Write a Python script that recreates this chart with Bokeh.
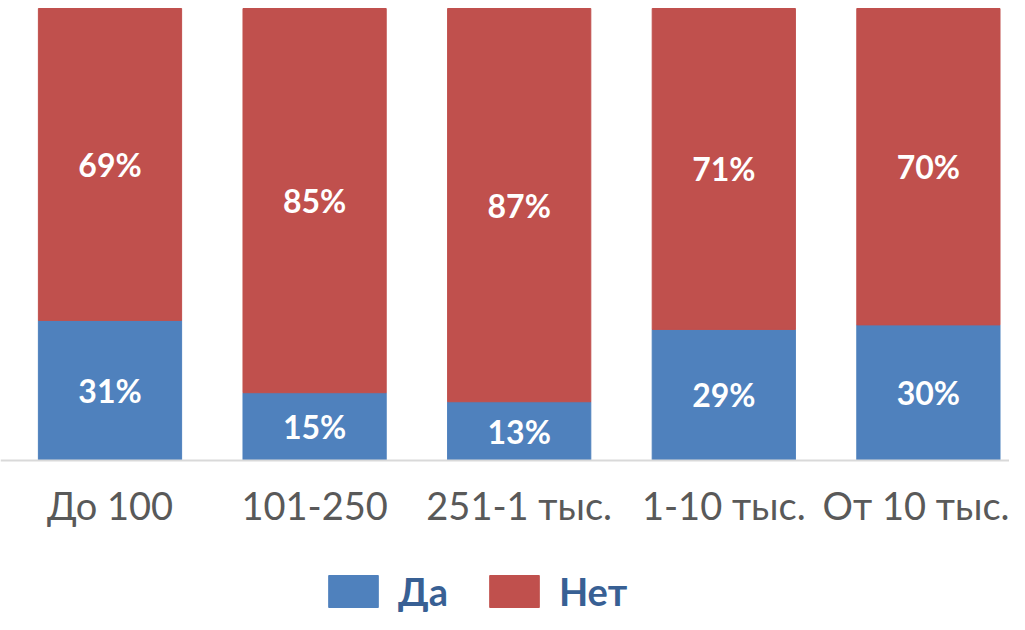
from bokeh.plotting import figure
from bokeh.models import ColumnDataSource, Range1d, FixedTicker, Legend, LegendItem
from bokeh.core.properties import value
from bokeh.embed import file_html
from bokeh.resources import INLINE

categories = ["До 100", "101-250", "251-1 тыс.", "1-10 тыс.", "От 10 тыс."]
da = [31, 15, 13, 29, 30]
net = [69, 85, 87, 71, 70]
series = ["Да", "Нет"]
colors = ["#4F81BD", "#C0504D"]

xs = list(range(len(categories)))
src = ColumnDataSource(dict(
    x=xs, da=da, net=net,
    da_y=[d / 2 for d in da],
    net_y=[d + n / 2 for d, n in zip(da, net)],
    da_lbl=[f"{d}%" for d in da],
    net_lbl=[f"{n}%" for n in net],
))

W, H = 1009, 614
PX = 4.52  # pixels per percent
p = figure(width=W, height=H, output_backend="svg", toolbar_location=None,
           x_range=Range1d(-109.5 / 204.6, (W - 109.5) / 204.6),
           y_range=Range1d(-(H - 460) / PX, 100 + 8 / PX),
           min_border=0)
p.outline_line_color = None
p.grid.visible = False
p.yaxis.visible = False
p.background_fill_color = "white"
p.border_fill_color = "white"

rs = p.vbar_stack(["da", "net"], x="x", width=0.70, source=src,
                  fill_color=colors, line_color=colors, line_width=1)

for col, ycol in (("da_lbl", "da_y"), ("net_lbl", "net_y")):
    p.text(x="x", y=ycol, text=col, source=src, text_color="white",
           text_font=value("Lato"), text_font_style="bold", text_font_size="32px",
           text_align="center", text_baseline="middle")

ax = p.xaxis[0]
ax.fixed_location = 0
ax.ticker = FixedTicker(ticks=xs)
ax.major_label_overrides = {i: c for i, c in enumerate(categories)}
ax.axis_line_color = "#D9D9D9"
ax.axis_line_width = 2
ax.major_tick_line_color = None
ax.minor_tick_line_color = None
ax.major_tick_out = 0
ax.major_tick_in = 0
ax.minor_tick_out = 0
ax.major_label_standoff = 21
ax.major_label_text_font = "Lato"
ax.major_label_text_font_size = "38px"
ax.major_label_text_color = "#595959"

legend = Legend(items=[LegendItem(label=series[0], renderers=[rs[0]]),
                       LegendItem(label=series[1], renderers=[rs[1]])],
                orientation="horizontal", location=(322, 0),
                glyph_width=62, glyph_height=40, label_height=40,
                label_standoff=14, spacing=35, padding=0, margin=0,
                border_line_color=None, background_fill_alpha=0,
                label_text_font="Lato", label_text_font_size="38px",
                label_text_font_style="bold", label_text_color="#386094")
p.add_layout(legend, "center")

open("out.html", "w").write(file_html(p, INLINE))
